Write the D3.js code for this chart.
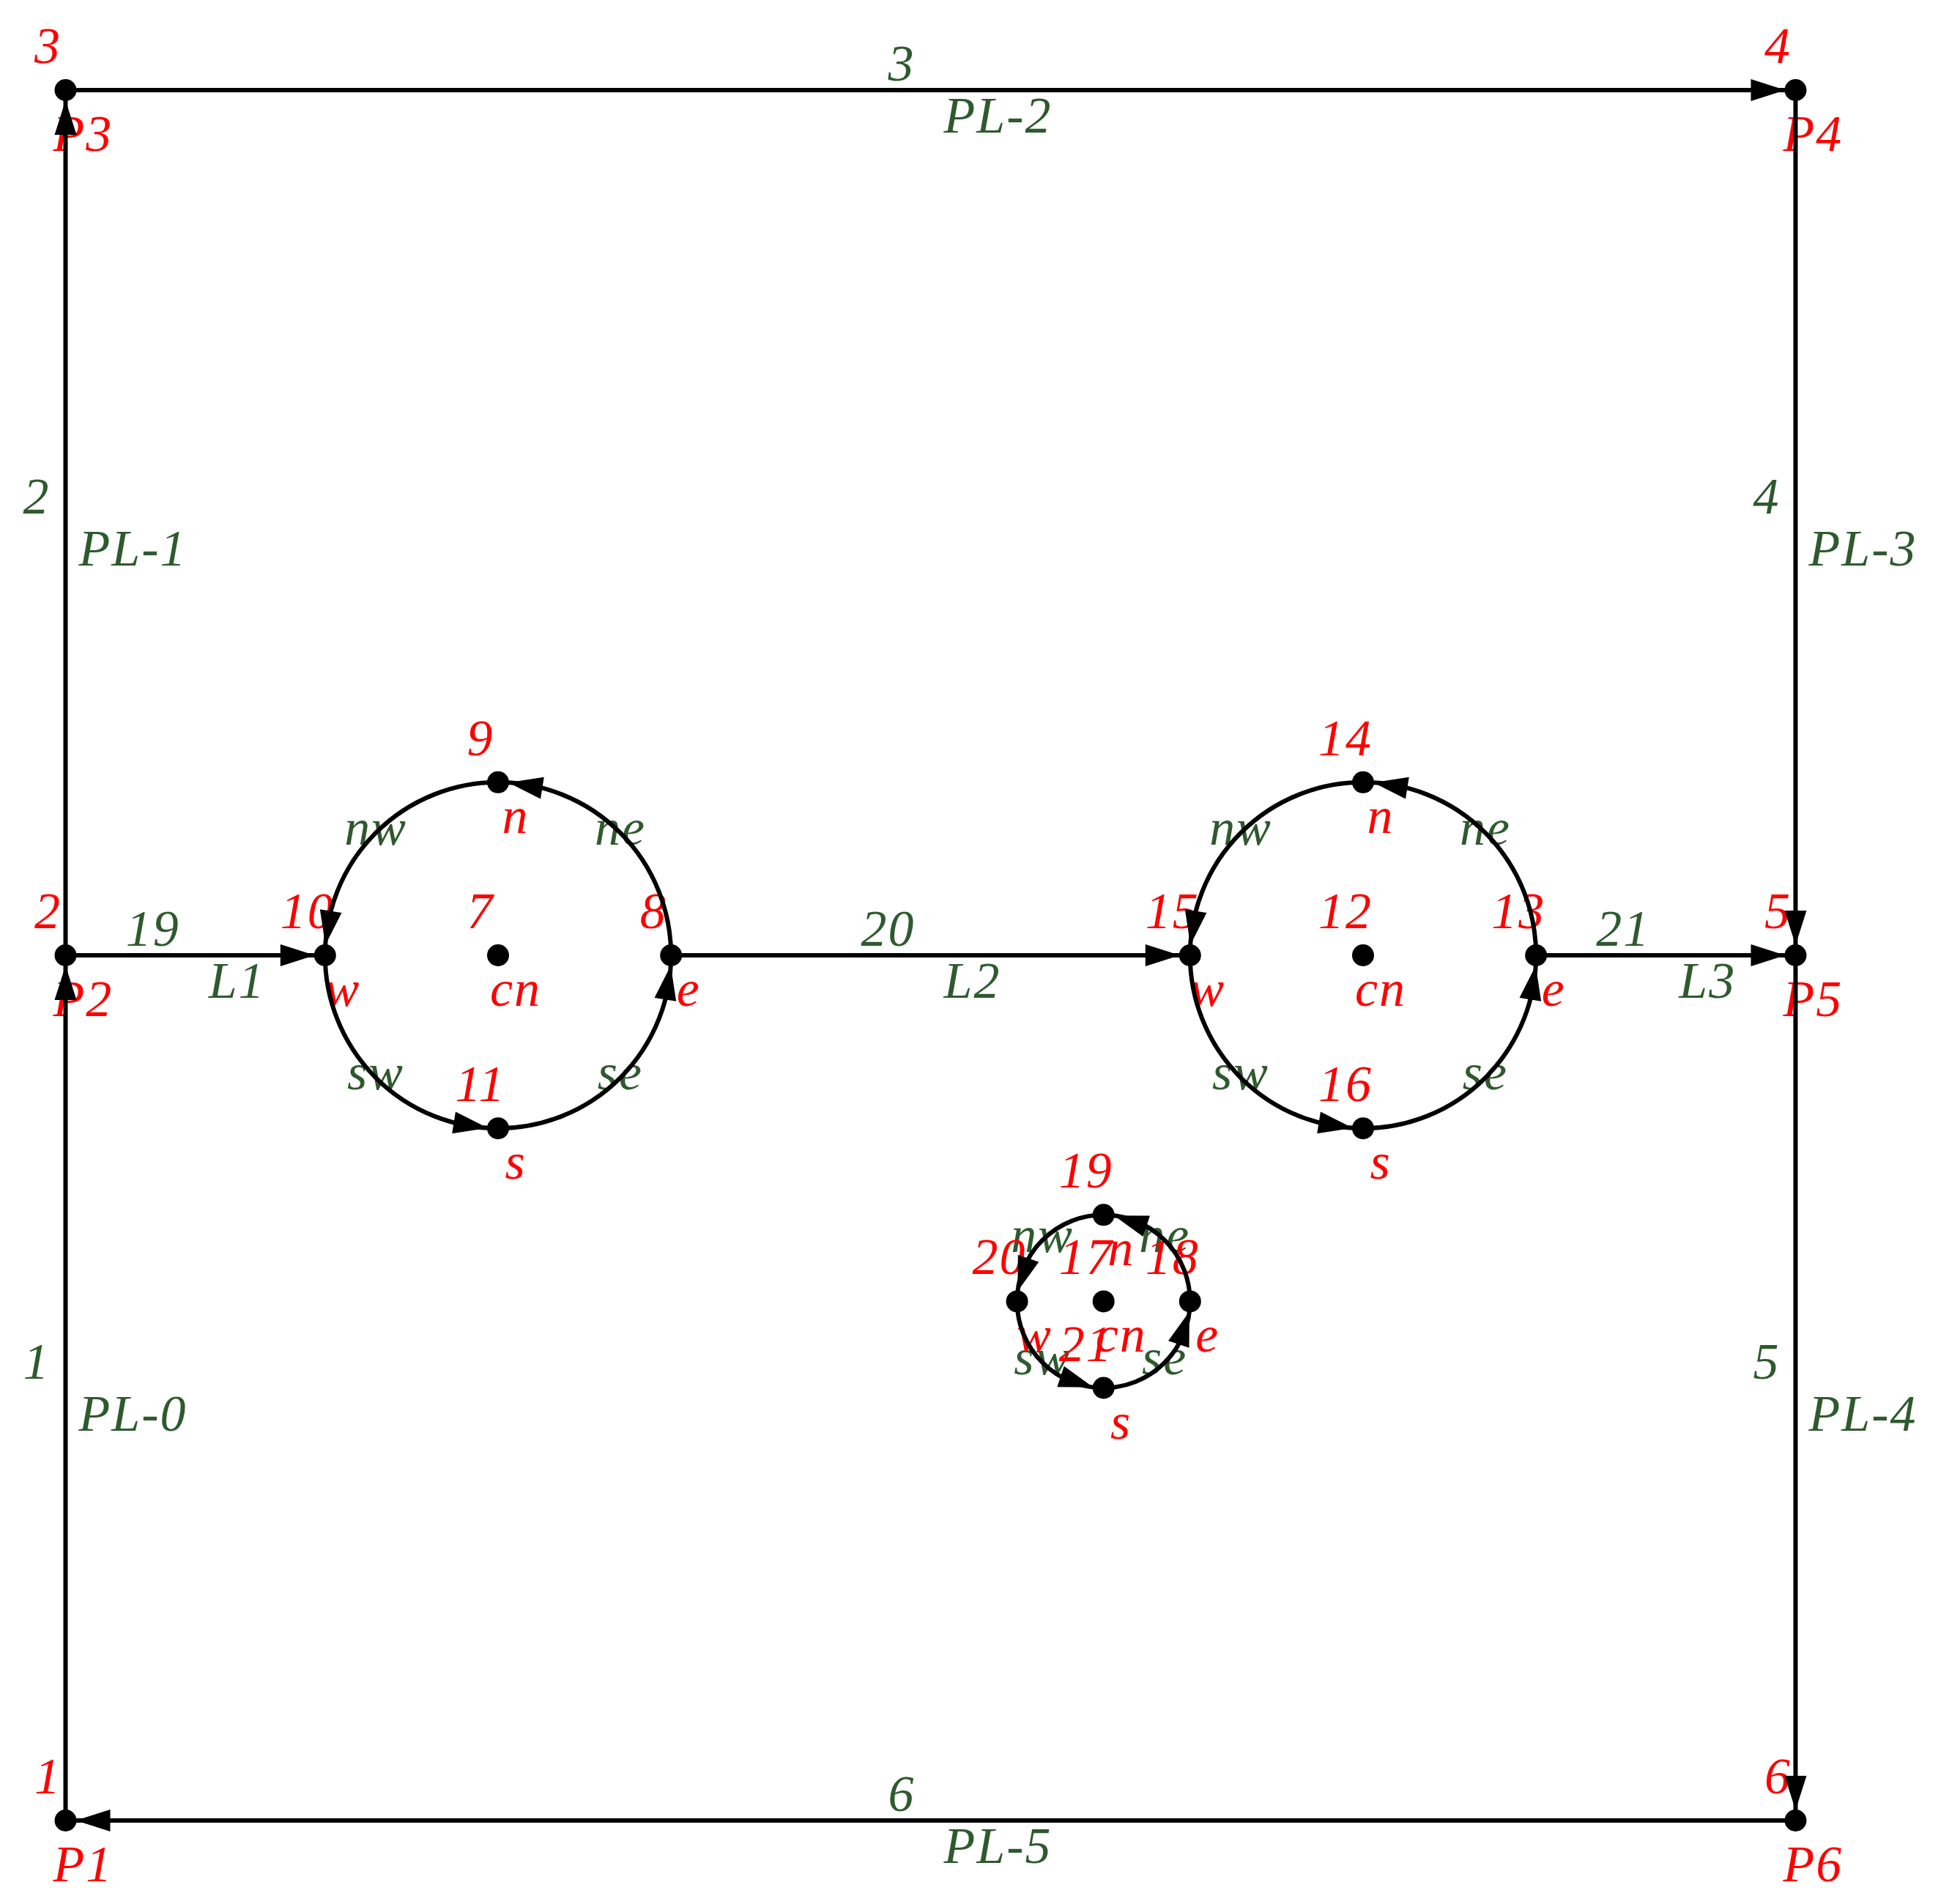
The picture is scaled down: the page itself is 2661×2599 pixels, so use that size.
<!DOCTYPE html>
<html>
<head>
<meta charset="utf-8">
<script src="https://cdn.jsdelivr.net/npm/d3@7"></script>
<style>
  body { margin: 0; background: #fff; }
  svg { display: block; }
  text { font-family: "Liberation Serif", "DejaVu Serif", serif; font-style: italic; font-size: 70px; letter-spacing: 2px; }
</style>
</head>
<body>
<div id="chart"></div>
<script>
// points: id, name and position in model units
const pointIds   = [1, 2, 3, 4, 5, 6, 7, 8, 9, 10, 11, 12, 13, 14, 15, 16, 17, 18, 19, 20, 21];
const pointNames = ['P1', 'P2', 'P3', 'P4', 'P5', 'P6',
                    'cn', 'e', 'n', 'w', 's',
                    'cn', 'e', 'n', 'w', 's',
                    'cn', 'e', 'n', 'w', 's'];
const pointX = [0, 0, 0, 1, 1, 1, 0.25, 0.35, 0.25, 0.15, 0.25, 0.75, 0.85, 0.75, 0.65, 0.75, 0.6, 0.65, 0.6, 0.55, 0.6];
const pointY = [0, 0.5, 1, 1, 0.5, 0, 0.5, 0.5, 0.6, 0.5, 0.4, 0.5, 0.5, 0.6, 0.5, 0.4, 0.3, 0.3, 0.35, 0.3, 0.25];

// straight lines
const lineIds   = [1, 2, 3, 4, 5, 6, 19, 20, 21];
const lineNames = ['PL-0', 'PL-1', 'PL-2', 'PL-3', 'PL-4', 'PL-5', 'L1', 'L2', 'L3'];
const lineFrom  = [1, 2, 3, 4, 5, 6, 2, 8, 13];
const lineTo    = [2, 3, 4, 5, 6, 1, 10, 15, 5];

// circle arcs (counter-clockwise from -> to around centre)
const arcCentre = [7, 7, 7, 7, 12, 12, 12, 12, 17, 17, 17, 17];
const arcFrom   = [8, 9, 10, 11, 13, 14, 15, 16, 18, 19, 20, 21];
const arcTo     = [9, 10, 11, 8, 14, 15, 16, 13, 19, 20, 21, 18];
const arcNames  = ['ne', 'nw', 'sw', 'se', 'ne', 'nw', 'sw', 'se', 'ne', 'nw', 'sw', 'se'];

const width = 2661;
const height = 2599;
const red = '#ff0000';
const green = '#2e5a2e';
const nodeR = 15;
const tipGap = 14, headLen = 47, headHalf = 15;

const x = d3.scaleLinear().domain([0, 1]).range([89.5, 2451.5]);
const y = d3.scaleLinear().domain([0, 1]).range([2485, 123]);

const pt = (id) => {
  const i = pointIds.indexOf(id);
  return [x(pointX[i]), y(pointY[i])];
};

const svg = d3.select('#chart').append('svg')
  .attr('width', width)
  .attr('height', height);

svg.append('rect').attr('width', width).attr('height', height).attr('fill', '#fff');

const labels = svg.append('g');
const marks = svg.append('g');

// arrow head polygon, tip at t, pointing along (t - b)
const headPoints = (t, b) => {
  const dx = t[0] - b[0], dy = t[1] - b[1];
  const len = Math.hypot(dx, dy);
  const ux = dx / len, uy = dy / len;
  const bx = t[0] - ux * headLen, by = t[1] - uy * headLen;
  return [t, [bx - uy * headHalf, by + ux * headHalf], [bx + uy * headHalf, by - ux * headHalf]];
};

// straight lines
lineIds.forEach((id, i) => {
  const a = pt(lineFrom[i]);
  const b = pt(lineTo[i]);
  marks.append('line')
    .attr('x1', a[0]).attr('y1', a[1])
    .attr('x2', b[0]).attr('y2', b[1])
    .attr('stroke', '#000').attr('stroke-width', 6);

  const len = Math.hypot(b[0] - a[0], b[1] - a[1]);
  const ux = (b[0] - a[0]) / len, uy = (b[1] - a[1]) / len;
  const tip = [b[0] - ux * tipGap, b[1] - uy * tipGap];
  marks.append('polygon')
    .attr('points', headPoints(tip, [tip[0] - ux, tip[1] - uy]).map(p => p.join(',')).join(' '))
    .attr('fill', '#000');

  const mx = (a[0] + b[0]) / 2, my = (a[1] + b[1]) / 2;
  labels.append('text')
    .attr('x', mx - 21).attr('y', my - 13)
    .attr('text-anchor', 'end')
    .attr('fill', green)
    .text(id);
  labels.append('text')
    .attr('x', mx + 18).attr('y', my + 58)
    .attr('fill', green)
    .text(lineNames[i]);
});

// arcs
arcFrom.forEach((from, i) => {
  const c = pt(arcCentre[i]);
  const a = pt(from);
  const b = pt(arcTo[i]);
  const r = Math.hypot(a[0] - c[0], a[1] - c[1]);
  const a0 = Math.atan2(a[1] - c[1], a[0] - c[0]);
  let a1 = Math.atan2(b[1] - c[1], b[0] - c[0]);
  while (a1 >= a0) a1 -= 2 * Math.PI;

  const p = d3.path();
  p.moveTo(a[0], a[1]);
  p.arc(c[0], c[1], r, a0, a1, true);
  marks.append('path')
    .attr('d', p.toString())
    .attr('fill', 'none')
    .attr('stroke', '#000').attr('stroke-width', 6);

  const at = (ang) => [c[0] + r * Math.cos(ang), c[1] + r * Math.sin(ang)];
  const tip = at(a1 + tipGap / r);
  const back = at(a1 + (tipGap + headLen) / r);
  marks.append('polygon')
    .attr('points', headPoints(tip, back).map(q => q.join(',')).join(' '))
    .attr('fill', '#000');

  const mid = at((a0 + a1) / 2);
  labels.append('text')
    .attr('x', mid[0]).attr('y', mid[1] + 16)
    .attr('text-anchor', 'middle')
    .attr('fill', green)
    .text(arcNames[i]);
});

// points
pointIds.forEach((id, i) => {
  const p = [x(pointX[i]), y(pointY[i])];
  marks.append('circle')
    .attr('cx', p[0]).attr('cy', p[1]).attr('r', nodeR)
    .attr('fill', '#000');

  labels.append('text')
    .attr('x', p[0] - 24).attr('y', p[1] - 37)
    .attr('text-anchor', 'middle')
    .attr('fill', red)
    .text(id);

  const name = pointNames[i];
  const tall = /[A-Z0-9]/.test(name) ? 46 : 32;
  labels.append('text')
    .attr('x', p[0] + 24).attr('y', p[1] + 37 + tall)
    .attr('text-anchor', 'middle')
    .attr('fill', red)
    .text(name);
});
</script>
</body>
</html>
